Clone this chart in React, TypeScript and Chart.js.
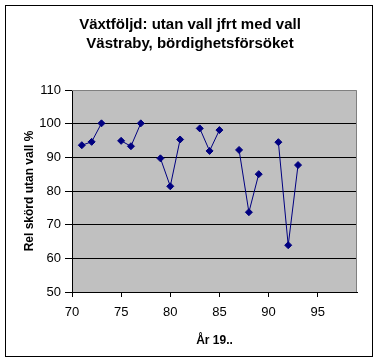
import React, { useEffect, useRef } from "react";
import { Chart, registerables } from "chart.js";

Chart.register(...registerables);

const years = [71, 72, 73, 74, 75, 76, 77, 78, 79, 80, 81, 82, 83, 84, 85, 86, 87, 88, 89, 90, 91, 92, 93];
const relYield: (number | null)[] = [
  93.6, 94.6, 100.1, null, 94.9, 93.3, 100.1, null, 89.7, 81.4, 95.3, null,
  98.6, 91.9, 98.1, null, 92.2, 73.7, 85.0, null, 94.5, 63.9, 87.7,
];
const titleLines = ["Växtföljd: utan vall jfrt med vall", "Västraby, bördighetsförsöket"];
const xTicks = [70, 75, 80, 85, 90, 95];
const yTicks = [50, 60, 70, 80, 90, 100, 110];
const xTitle = "År 19..";
const yTitle = "Rel skörd utan vall %";

const FONT = "'Liberation Sans', Arial, sans-serif";

const framePlugin = {
  id: "frame",
  beforeDraw(chart: any) {
    const { ctx, chartArea: a } = chart;
    ctx.save();
    ctx.fillStyle = "#fff";
    ctx.fillRect(0, 0, chart.width, chart.height);
    ctx.fillStyle = "#c0c0c0";
    ctx.fillRect(a.left, a.top, a.right - a.left, a.bottom - a.top);
    ctx.restore();
  },
  beforeDatasetsDraw(chart: any) {
    const { ctx, chartArea: a } = chart;
    ctx.save();
    ctx.strokeStyle = "#808080";
    ctx.lineWidth = 1;
    ctx.beginPath();
    ctx.moveTo(a.left, Math.round(a.top) + 0.5);
    ctx.lineTo(Math.round(a.right) - 0.5, Math.round(a.top) + 0.5);
    ctx.lineTo(Math.round(a.right) - 0.5, a.bottom);
    ctx.stroke();
    ctx.restore();
  },
  afterDraw(chart: any) {
    const { ctx } = chart;
    ctx.save();
    ctx.strokeStyle = "#000";
    ctx.lineWidth = 1;
    ctx.strokeRect(5.5, 5.5, 367, 351);
    ctx.fillStyle = "#000";
    ctx.font = `bold 15px ${FONT}`;
    ctx.textAlign = "center";
    ctx.textBaseline = "alphabetic";
    titleLines.forEach((line, i) => {
      ctx.fillText(line, 190, 29 + i * 19);
    });
    ctx.restore();
  },
};

export default function App() {
  const ref = useRef<HTMLCanvasElement | null>(null);

  useEffect(() => {
    if (!ref.current) return;
    const chart = new Chart(ref.current, {
      type: "line",
      data: {
        datasets: [
          {
            data: years.map((x, i) => ({ x, y: relYield[i] })) as any,
            borderColor: "#000080",
            backgroundColor: "#000080",
            borderWidth: 1,
            pointStyle: "rectRot",
            pointRadius: 3.5,
            pointBorderWidth: 1,
            pointBackgroundColor: "#000080",
            pointBorderColor: "#000080",
            spanGaps: false,
            tension: 0,
          },
        ],
      },
      options: {
        responsive: false,
        animation: false,
        devicePixelRatio: 1,
        layout: { padding: { left: 0, right: 24, top: 90, bottom: 0 } },
        plugins: {
          legend: { display: false },
          tooltip: { enabled: false },
          title: { display: false },
        },
        scales: {
          x: {
            type: "linear",
            min: 70,
            max: 99,
            afterBuildTicks: (s: any) => {
              s.ticks = xTicks.map((v) => ({ value: v }));
            },
            afterFit: (s: any) => {
              s.height = 71;
            },
            grid: { drawOnChartArea: false, drawTicks: true, tickLength: 5, tickColor: "#000" },
            border: { color: "#000", width: 1 },
            ticks: {
              color: "#000",
              font: { family: FONT, size: 13 },
              padding: 8,
              maxRotation: 0,
              autoSkip: false,
            },
            title: {
              display: true,
              text: xTitle,
              color: "#000",
              font: { family: FONT, size: 12, weight: "bold" },
              padding: { top: 0, bottom: 15 },
            },
          },
          y: {
            type: "linear",
            min: 50,
            max: 110,
            afterBuildTicks: (s: any) => {
              s.ticks = yTicks.map((v) => ({ value: v }));
            },
            afterFit: (s: any) => {
              s.width = 72;
            },
            grid: {
              color: (c: any) => (c.tick && c.tick.value === 110 ? "rgba(0,0,0,0)" : "#000"),
              drawTicks: true,
              tickLength: 7,
              tickColor: "#000",
            },
            border: { color: "#000", width: 1 },
            ticks: {
              color: "#000",
              font: { family: FONT, size: 13 },
              padding: 4,
            },
            title: {
              display: true,
              text: yTitle,
              color: "#000",
              font: { family: FONT, size: 12, weight: "bold" },
              padding: { top: 22, bottom: 0 },
            },
          },
        },
      } as any,
      plugins: [framePlugin],
    });
    return () => chart.destroy();
  }, []);

  return (
    <div style={{ position: "fixed", left: 0, top: 0, width: 381, height: 363, background: "#fff" }}>
      <canvas ref={ref} width={381} height={363} style={{ display: "block" }} />
    </div>
  );
}
